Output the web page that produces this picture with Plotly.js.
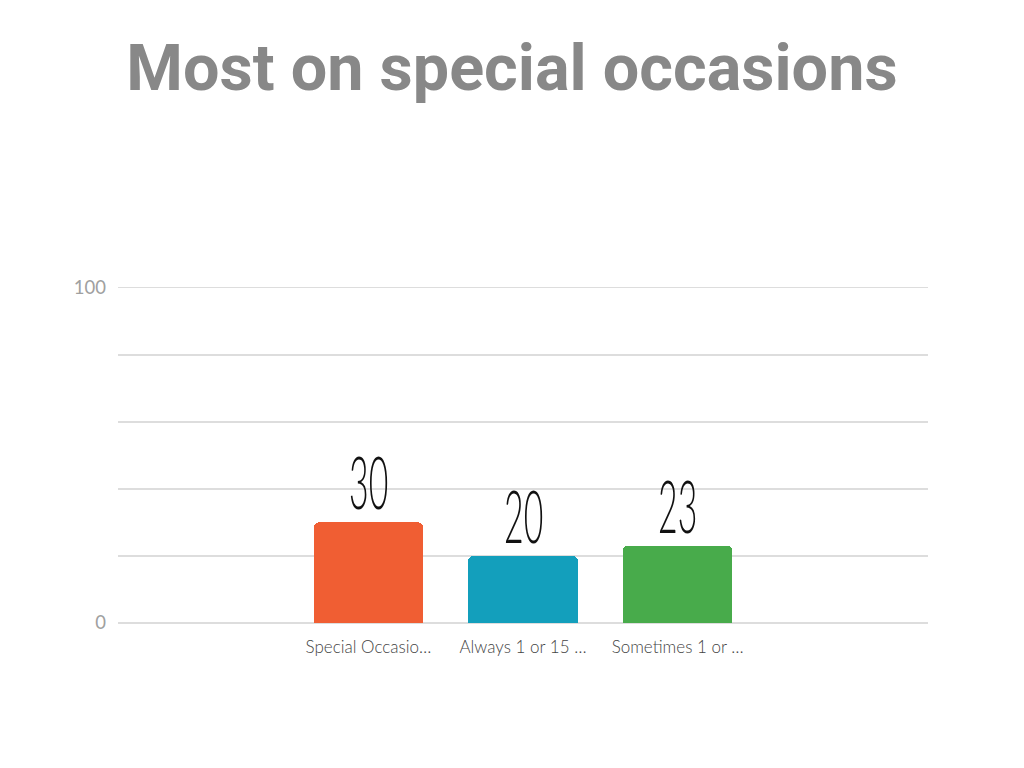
<!DOCTYPE html>
<html>
<head>
<meta charset="utf-8">
<script src="https://cdn.plot.ly/plotly-3.0.1.min.js"></script>
<style>
html,body{margin:0;padding:0;background:#fff;}
#chart{width:1024px;height:768px;}
text.annotation-text{transform-box:fill-box;transform-origin:center;transform:scaleX(0.47);}
</style>
</head>
<body>
<div id="chart"></div>
<script>
const categories = ["Special Occasio…", "Always 1 or 15 …", "Sometimes 1 or …"];
const values = [30, 20, 23];
const barColors = ["#F05E33", "#139FBC", "#48AB4B"];
const yTickVals = [0, 20, 40, 60, 80, 100];
const yTickText = ["0", "", "", "", "", "100"];

const trace = {
  type: "bar",
  x: categories,
  y: values,
  width: 0.71,
  marker: { color: barColors, cornerradius: 5 },
  hoverinfo: "none",
  cliponaxis: false
};

const annotations = categories.map((c, i) => ({
  x: c, y: values[i], xref: "x", yref: "y",
  text: String(values[i]), showarrow: false,
  yanchor: "bottom", yshift: -4,
  font: { family: "Lato, sans-serif", size: 72, color: "#111", weight: 300 }
}));

const layout = {
  width: 1024, height: 768,
  paper_bgcolor: "#fff", plot_bgcolor: "#fff",
  margin: { l: 118, r: 96, t: 281.3, b: 145 },
  title: {
    text: "Most on special occasions",
    font: { family: "Roboto, sans-serif", size: 64.7, color: "#888888", weight: 700 },
    x: 0.5, xanchor: "center", y: 0.912, yanchor: "middle"
  },
  showlegend: false,
  bargap: 0,
  xaxis: {
    range: [-1.62, 3.62],
    showgrid: false, zeroline: false, showline: false,
    tickfont: { family: "Lato, sans-serif", size: 17, color: "#444", weight: 300 },
    ticks: "", ticklabelstandoff: 12, fixedrange: true
  },
  yaxis: {
    range: [0, 102],
    tickvals: yTickVals, ticktext: yTickText,
    gridcolor: "#dddddd", gridwidth: 1.5,
    zeroline: true, zerolinecolor: "#dddddd", zerolinewidth: 1.5,
    showline: false, ticks: "",
    tickfont: { family: "Lato, sans-serif", size: 18.5, color: "#a0a0a0" },
    ticklabelstandoff: 11, fixedrange: true
  },
  annotations: annotations
};

Plotly.newPlot("chart", [trace], layout, { displayModeBar: false, staticPlot: true });
</script>
</body>
</html>
